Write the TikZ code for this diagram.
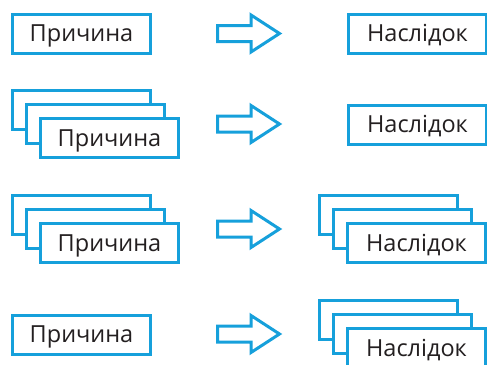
\documentclass[tikz,border=0pt]{standalone}
\usepackage{fontspec}
\setmainfont{Open Sans}
\definecolor{boxblue}{RGB}{22,160,219}
\definecolor{txt}{RGB}{35,31,32}
\tikzset{
  card/.style={draw=boxblue, line width=3pt, fill=white, minimum width=138pt, minimum height=39pt, inner sep=0pt, text height=16.8pt, text depth=0pt, text=txt, font=\fontsize{23.5}{23.5}\selectfont},
  fatarrow/.style={draw=boxblue, line width=3pt, line join=miter, fill=white},
}
\newcommand{\fatarrowat}[2]{%
  \draw[fatarrow] (217.5,#2-8) -- (251,#2-8) -- (251,#2-18.5) -- (279.5,#2) -- (251,#2+18.5) -- (251,#2+8) -- (217.5,#2+8) -- cycle;}
\begin{document}
\begin{tikzpicture}[x=1pt,y=-1pt]
\useasboundingbox (0,0) rectangle (487,364);
\clip (0,0) rectangle (487,364);
% Row 1
\node[card] (c1) at (81.5,33.5) {Причина};
\fatarrowat{1}{33.5}
\node[card] (e1) at (417.5,33.5) {Наслідок};
% Row 2
\node[card] (c2a) at (81.5,110) {};
\node[card] (c2b) at (95.5,124) {};
\node[card] (c2) at (109.5,138) {Причина};
\fatarrowat{2}{124}
\node[card] (e2) at (417.5,124.5) {Наслідок};
% Row 3
\node[card] (c3a) at (81.5,215) {};
\node[card] (c3b) at (95.5,229) {};
\node[card] (c3) at (109.5,243) {Причина};
\fatarrowat{3}{229}
\node[card] (e3a) at (388.5,215) {};
\node[card] (e3b) at (402.5,229) {};
\node[card] (e3) at (416.5,243) {Наслідок};
% Row 4
\node[card] (c4) at (81.5,334.5) {Причина};
\fatarrowat{4}{334}
\node[card] (e4a) at (388.5,320) {};
\node[card] (e4b) at (402.5,334) {};
\node[card] (e4) at (416.5,348) {Наслідок};
\end{tikzpicture}
\end{document}
